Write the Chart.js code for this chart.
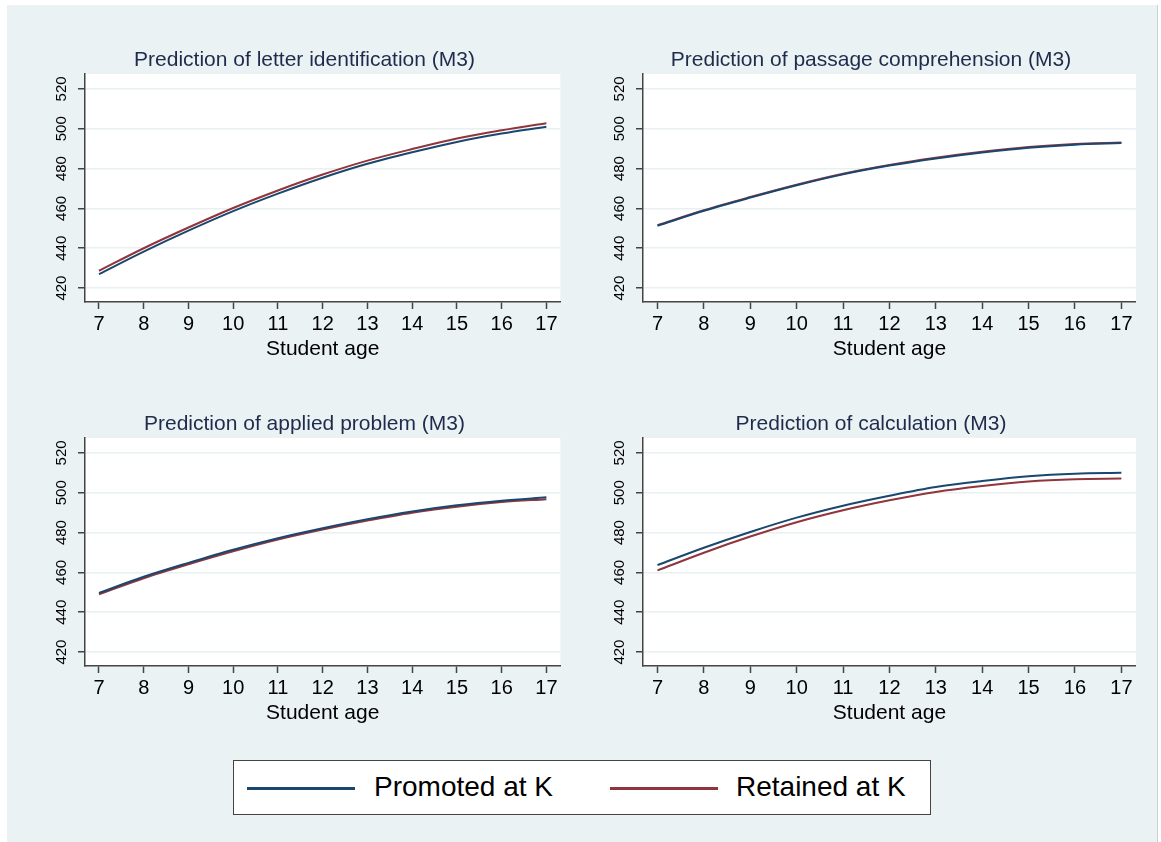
<!DOCTYPE html>
<html>
<head>
<meta charset="utf-8">
<script src="https://cdn.jsdelivr.net/npm/chart.js@4.4.1/dist/chart.umd.min.js"></script>
<style>
  body { margin: 0; background: #ffffff; width: 1161px; height: 842px; overflow: hidden; font-family: "Liberation Sans", Arial, sans-serif; }
  #bg { position: absolute; left: 7px; top: 5px; width: 1150px; height: 837px; background: #eaf2f3; border-right: 1px solid #c9d0d2; }
  canvas { position: absolute; }
  #legend { position: absolute; left: 233px; top: 760px; width: 696px; height: 53px; background: #fff; border: 1.5px solid #444; }
  .sample { position: absolute; top: 26px; height: 3px; width: 108px; }
  .lab { position: absolute; top: 10px; font-size: 28px; line-height: 32px; color: #000; }
</style>
</head>
<body>
<div id="bg"></div>
<canvas id="c1" width="513" height="330" style="left:48px;top:40px"></canvas>
<canvas id="c2" width="530" height="330" style="left:606px;top:40px"></canvas>
<canvas id="c3" width="513" height="330" style="left:48px;top:404px"></canvas>
<canvas id="c4" width="530" height="330" style="left:606px;top:404px"></canvas>
<div id="legend">
  <div class="sample" style="left:13px;background:#1a476f"></div>
  <div class="lab" style="left:140px">Promoted at K</div>
  <div class="sample" style="left:376px;background:#90353b"></div>
  <div class="lab" style="left:502px">Retained at K</div>
</div>
<script>
const ages = [7, 8, 9, 10, 11, 12, 13, 14, 15, 16, 17];
const yTicks = [420, 440, 460, 480, 500, 520];

const letterPromoted = [427, 438.3, 448.8, 458.6, 467.4, 475.4, 482.4, 488.2, 493.4, 497.6, 501];
const letterRetained = [428.7, 440, 450.4, 460.2, 469, 477, 484, 489.8, 495.1, 499.2, 502.8];

const passagePromoted = [451.3, 458.8, 465.4, 471.6, 477.1, 481.5, 485.1, 488.1, 490.5, 492, 492.8];
const passageRetained = [451.6, 459.1, 465.7, 471.9, 477.4, 481.8, 485.4, 488.4, 490.8, 492.3, 493.1];

const appliedPromoted = [449.7, 457.8, 464.8, 471.4, 477.2, 482.2, 486.7, 490.6, 493.7, 496, 497.7];
const appliedRetained = [449, 457.1, 464.1, 470.6, 476.5, 481.5, 486, 490, 493, 495.3, 496.8];

const calcPromoted = [463.7, 472.4, 480.3, 487.5, 493.5, 498.5, 502.9, 505.9, 508.3, 509.6, 510];
const calcRetained = [461, 469.9, 478, 485.2, 491.2, 496.2, 500.4, 503.4, 505.7, 506.8, 507.1];

const titles = [
  'Prediction of letter identification (M3)',
  'Prediction of passage comprehension (M3)',
  'Prediction of applied problem (M3)',
  'Prediction of calculation (M3)'
];

const blue = '#1a476f';
const red = '#90353b';
const axisColor = '#444444';

const plotBg = {
  id: 'plotBg',
  beforeDraw(chart) {
    const a = chart.chartArea;
    const ctx = chart.ctx;
    ctx.save();
    ctx.fillStyle = '#ffffff';
    ctx.fillRect(a.left, a.top, a.right - a.left, a.bottom - a.top);
    ctx.restore();
  }
};

function toPoints(vals) {
  return ages.map((a, i) => ({ x: a, y: vals[i] }));
}

function makePanel(id, title, promoted, retained, yWidth) {
  const ctx = document.getElementById(id).getContext('2d');
  return new Chart(ctx, {
    type: 'line',
    data: {
      datasets: [
        { label: 'Promoted at K', data: toPoints(promoted), borderColor: blue, borderWidth: 2, pointRadius: 0, cubicInterpolationMode: 'monotone' },
        { label: 'Retained at K', data: toPoints(retained), borderColor: red, borderWidth: 2, pointRadius: 0, cubicInterpolationMode: 'monotone' }
      ]
    },
    options: {
      responsive: false,
      animation: false,
      devicePixelRatio: 1,
      layout: { padding: 0 },
      plugins: {
        legend: { display: false },
        tooltip: { enabled: false },
        title: {
          display: true,
          text: title,
          color: '#1e2b4c',
          font: { family: 'Liberation Sans', size: 21, weight: 'normal' },
          padding: { top: 7.4, bottom: 1.4 }
        }
      },
      scales: {
        x: {
          type: 'linear',
          min: 6.6875,
          max: 17.3125,
          afterBuildTicks: (s) => { s.ticks = ages.map(v => ({ value: v })); },
          afterFit: (s) => { s.height = 68; },
          ticks: { color: '#000', font: { family: 'Liberation Sans', size: 20 }, padding: 3.5, maxRotation: 0 },
          grid: { drawOnChartArea: false, tickLength: 7, tickColor: axisColor, tickWidth: 1.5 },
          border: { color: axisColor, width: 1.5 },
          title: { display: true, text: 'Student age', color: '#000', font: { family: 'Liberation Sans', size: 21 }, padding: { top: 0, bottom: 8.4 } }
        },
        y: {
          min: 413,
          max: 527.5,
          afterBuildTicks: (s) => { s.ticks = yTicks.map(v => ({ value: v })); },
          afterFit: (s) => { s.width = yWidth; },
          ticks: { color: '#000', font: { family: 'Liberation Sans', size: 15 }, minRotation: 90, maxRotation: 90, crossAlign: 'center', padding: 3.2 },
          grid: { color: '#e8f0f2', lineWidth: 1.5, tickLength: 7, tickColor: axisColor, tickWidth: 1.5 },
          border: { color: axisColor, width: 1.5 }
        }
      }
    },
    plugins: [plotBg]
  });
}

makePanel('c1', titles[0], letterPromoted, letterRetained, 37);
makePanel('c2', titles[1], passagePromoted, passageRetained, 37);
makePanel('c3', titles[2], appliedPromoted, appliedRetained, 37);
makePanel('c4', titles[3], calcPromoted, calcRetained, 37);
</script>
</body>
</html>
